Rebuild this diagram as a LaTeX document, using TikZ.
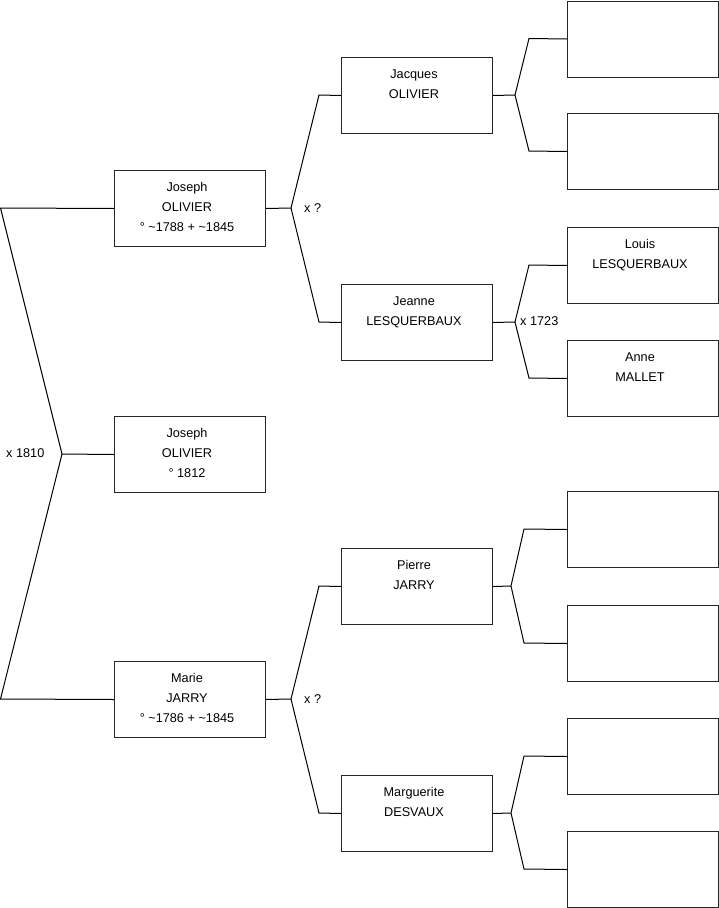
\documentclass[tikz,border=0pt]{standalone}
\usepackage{fontspec}
\setmainfont{Liberation Sans}
% person text, first line on the baseline of the node
\newcommand{\names}[1]{\begin{tabular}[t]{@{}c@{\hspace{6pt}}}#1\end{tabular}}
\begin{document}
\begin{tikzpicture}[x=1pt, y=-1pt]
        % Box and line style definitions
        \tikzset{
            person/.style={draw=black!85, line width=1pt, anchor=north west,
                minimum width=151pt, inner sep=0pt, text height=21pt, text depth=55pt,
                font=\fontsize{12.7pt}{20pt}\selectfont},
            branch/.style={black, line width=1pt, line join=miter},
            union/.style={anchor=west, inner sep=0pt, font=\fontsize{12.7pt}{14pt}\selectfont}
        }
        \useasboundingbox (0,0) rectangle (719,908);

        % ==========================================
        % GENERATION 1 AND 2 (left column)
        % ==========================================
        \node[person] (root)   at (114,416) {\names{Joseph\\OLIVIER\\° 1812}};
        \node[person] (father) at (114,170) {\names{Joseph\\OLIVIER\\° \textasciitilde1788 + \textasciitilde1845}};
        \node[person] (mother) at (114,661) {\names{Marie\\JARRY\\° \textasciitilde1786 + \textasciitilde1845}};

        % ==========================================
        % GENERATION 3 (middle column)
        % ==========================================
        \node[person] (ffather) at (341,57)  {\names{Jacques\\OLIVIER}};
        \node[person] (fmother) at (341,284) {\names{Jeanne\\LESQUERBAUX}};
        \node[person] (mfather) at (341,548) {\names{Pierre\\JARRY}};
        \node[person] (mmother) at (341,775) {\names{Marguerite\\DESVAUX}};

        % ==========================================
        % GENERATION 4 (right column)
        % ==========================================
        \node[person] (fff) at (567,0.5) {};
        \node[person] (ffm) at (567,113) {};
        \node[person] (fmf) at (567,227) {\names{Louis\\LESQUERBAUX}};
        \node[person] (fmm) at (567,340) {\names{Anne\\MALLET}};
        \node[person] (mff) at (567,491) {};
        \node[person] (mfm) at (567,605) {};
        \node[person] (mmf) at (567,718) {};
        \node[person] (mmm) at (567,831) {};

        % Joints and bends of the branches
        \coordinate (j0) at (62,454);
        \coordinate (b0f) at (0.5,208);
        \coordinate (b0m) at (0.5,699);
        \coordinate (jf) at (291,208);
        \coordinate (bff) at (319,95);
        \coordinate (bfm) at (319,322);
        \coordinate (jm) at (291,699);
        \coordinate (bmf) at (319,586);
        \coordinate (bmm) at (319,813);
        \coordinate (jff) at (515,95);
        \coordinate (bfff) at (529,38.5);
        \coordinate (bffm) at (529,151);
        \coordinate (jfm) at (515,322);
        \coordinate (bfmf) at (529,265);
        \coordinate (bfmm) at (529,378);
        \coordinate (jmf) at (511,586);
        \coordinate (bmff) at (524,529);
        \coordinate (bmfm) at (524,643);
        \coordinate (jmm) at (511,813);
        \coordinate (bmmf) at (524,756);
        \coordinate (bmmm) at (524,869);

        % Parents of Joseph (root)
        \draw[branch] (root.west) -- (j0);
        \draw[branch] (father.west) -- (b0f) -- (j0) -- (b0m) -- (mother.west);
        \node[union] (u0) at (6,453) {x 1810};

        % Parents of Joseph (father)
        \draw[branch] (father.east) -- (jf);
        \draw[branch] (ffather.west) -- (bff) -- (jf) -- (bfm) -- (fmother.west);
        \node[union] (uf) at (304,208) {x ?};

        % Parents of Marie
        \draw[branch] (mother.east) -- (jm);
        \draw[branch] (mfather.west) -- (bmf) -- (jm) -- (bmm) -- (mmother.west);
        \node[union] (um) at (304,699) {x ?};

        % Grandparents, right column
        \draw[branch] (ffather.east) -- (jff);
        \draw[branch] (fff.west) -- (bfff) -- (jff) -- (bffm) -- (ffm.west);

        \draw[branch] (fmother.east) -- (jfm);
        \draw[branch] (fmf.west) -- (bfmf) -- (jfm) -- (bfmm) -- (fmm.west);
        \node[union] (ufm) at (520,321) {x 1723};

        \draw[branch] (mfather.east) -- (jmf);
        \draw[branch] (mff.west) -- (bmff) -- (jmf) -- (bmfm) -- (mfm.west);

        \draw[branch] (mmother.east) -- (jmm);
        \draw[branch] (mmf.west) -- (bmmf) -- (jmm) -- (bmmm) -- (mmm.west);

    \end{tikzpicture}
\end{document}
